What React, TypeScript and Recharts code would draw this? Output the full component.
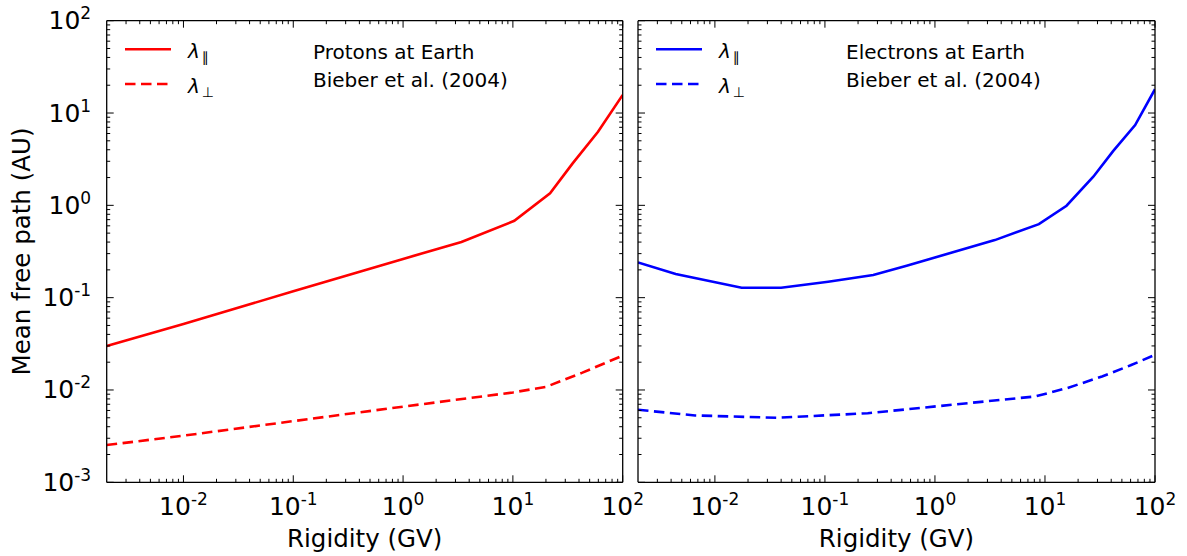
import React from 'react';
import { LineChart, Line, XAxis, YAxis, Legend } from 'recharts';

const FONT = "'DejaVu Sans', sans-serif";

// Protons (left panel)
const protonParRigidity = [0.002, 0.01, 0.1, 1, 3.4, 10.3, 21.8, 35, 59.6, 100];
const protonParLambda = [0.03, 0.052, 0.117, 0.263, 0.4, 0.68, 1.35, 2.85, 6.27, 15.7];
const protonPerpRigidity = [0.002, 0.01, 0.1, 1, 10, 20, 43, 100];
const protonPerpLambda = [0.00253, 0.0032, 0.0046, 0.0066, 0.0094, 0.0108, 0.0154, 0.0236];

// Electrons (right panel)
const electronParRigidity = [0.002, 0.0044, 0.0175, 0.04, 0.107, 0.275, 0.553, 3.5, 8.8, 15.7, 27.5, 41.6, 66, 100];
const electronParLambda = [0.241, 0.18, 0.128, 0.128, 0.149, 0.176, 0.222, 0.42, 0.626, 0.99, 2.04, 3.87, 7.4, 18.1];
const electronPerpRigidity = [0.002, 0.0066, 0.037, 0.245, 2.0, 8.1, 16, 33, 60, 100];
const electronPerpLambda = [0.0061, 0.0053, 0.005, 0.0056, 0.0072, 0.0085, 0.0105, 0.014, 0.0185, 0.024];

// Axis ticks
const xMajorTicks = [0.01, 0.1, 1, 10, 100];
const xMajorExponents = ['-2', '-1', '0', '1', '2'];
const yMajorTicks = [0.001, 0.01, 0.1, 1, 10, 100];
const yMajorExponents = ['-3', '-2', '-1', '0', '1', '2'];
const X_DOMAIN: [number, number] = [0.002, 100];
const Y_DOMAIN: [number, number] = [0.001, 100];

const legendSymbol = 'λ';
const legendSubscripts = ['∥', '⊥'];
const protonTitle = ['Protons at Earth', 'Bieber et al. (2004)'];
const electronTitle = ['Electrons at Earth', 'Bieber et al. (2004)'];
const xAxisTitle = 'Rigidity (GV)';
const yAxisTitle = 'Mean free path (AU)';

function withMinors(majors: number[], lo: number, hi: number): number[] {
  const out: number[] = [];
  const decades = [0.0001, 0.001, 0.01, 0.1, 1, 10];
  for (const d of decades) {
    for (let k = 1; k <= 9; k++) {
      const v = parseFloat((k * d).toPrecision(6));
      if (v >= lo * 0.9999 && v <= hi * 1.0001) out.push(v);
    }
  }
  majors.forEach((m) => { if (!out.includes(m)) out.push(m); });
  return out.sort((a, b) => a - b);
}

const xTicks = withMinors(xMajorTicks, 0.003, 100);
const yTicks = withMinors(yMajorTicks, 0.001, 100);

const isMajor = (v: number) => Math.abs(Math.log10(v) - Math.round(Math.log10(v))) < 1e-6;
const MAJOR = 7;
const MINOR = 3.5;
const TICK_STROKE = '#000';
const TICK_FONT = 25;
const SUP_FONT = 17;
const TITLE_FONT = 24.5;

function xExp(v: number) {
  const i = xMajorTicks.findIndex((m) => Math.abs(m - v) / m < 1e-6);
  return i >= 0 ? xMajorExponents[i] : null;
}
function yExp(v: number) {
  const i = yMajorTicks.findIndex((m) => Math.abs(m - v) / m < 1e-6);
  return i >= 0 ? yMajorExponents[i] : null;
}

const makeXTick = (side: 'bottom' | 'top', labels: boolean) => (props: any) => {
  const { x, y, payload } = props;
  const v = payload.value;
  const major = isMajor(v);
  const len = major ? MAJOR : MINOR;
  const dir = side === 'bottom' ? -1 : 1;
  const exp = xExp(v);
  return (
    <g>
      <line x1={x} y1={y} x2={x} y2={y + dir * len} stroke={TICK_STROKE} strokeWidth={1} />
      {labels && major && exp !== null && (
        <text x={x} y={y + 33} textAnchor="middle" fontFamily={FONT} fontSize={TICK_FONT} fill="#000">
          10<tspan dy={-10} fontSize={SUP_FONT}>{exp}</tspan>
        </text>
      )}
    </g>
  );
};

const makeYTick = (side: 'left' | 'right', labels: boolean) => (props: any) => {
  const { x, y, payload } = props;
  const v = payload.value;
  const major = isMajor(v);
  const len = major ? MAJOR : MINOR;
  const dir = side === 'left' ? 1 : -1;
  const exp = yExp(v);
  return (
    <g>
      <line x1={x} y1={y} x2={x + dir * len} y2={y} stroke={TICK_STROKE} strokeWidth={1} />
      {labels && major && exp !== null && (
        <text x={x - 15.5} y={y + 8.5} textAnchor="end" fontFamily={FONT} fontSize={TICK_FONT} fill="#000">
          10<tspan dy={-10} fontSize={SUP_FONT}>{exp}</tspan>
        </text>
      )}
    </g>
  );
};

const zip = (rs: number[], ls: number[]) => rs.map((r, i) => ({ r, l: ls[i] }));

const AXIS_LINE = { stroke: '#000', strokeWidth: 1.3 };
const DASH = '10.5 5.5';

type PanelProps = {
  left: number;
  width: number;
  margin: { top: number; right: number; bottom: number; left: number };
  leftAxisWidth: number;
  parR: number[];
  parL: number[];
  perpR: number[];
  perpL: number[];
  color: string;
  title: string[];
  showYLabels: boolean;
  legendX: number;
  titleX: number;
};

function Panel(p: PanelProps) {
  const par = zip(p.parR, p.parL);
  const perp = zip(p.perpR, p.perpL);
  const legendContent = (lp: any) => {
    const items = (lp.payload || []) as any[];
    const ys = [49.3, 84];
    return (
      <svg width={560} height={110} style={{ position: 'absolute', left: 0, top: 0, overflow: 'visible' }}>
        {items.map((it, i) => (
          <g key={i}>
            <line
              x1={p.legendX}
              x2={p.legendX + 46}
              y1={ys[i]}
              y2={ys[i]}
              stroke={it.color}
              strokeWidth={2.6}
              strokeDasharray={it.payload && it.payload.strokeDasharray ? it.payload.strokeDasharray : undefined}
            />
            <text x={p.legendX + 63} y={ys[i] + 9} fontFamily={FONT} fontSize={20} fontStyle="italic" fill="#000">
              {legendSymbol}
              <tspan dx={2} dy={4} fontSize={14} fontStyle="normal" fill="#000">{legendSubscripts[i]}</tspan>
            </text>
          </g>
        ))}
        <text x={p.titleX} y={59.3} fontFamily={FONT} fontSize={20} fill="#000">{p.title[0]}</text>
        <text x={p.titleX} y={87} fontFamily={FONT} fontSize={20} fill="#000">{p.title[1]}</text>
      </svg>
    );
  };

  return (
    <div style={{ position: 'absolute', left: p.left, top: 0 }}>
      <LineChart width={p.width} height={556} margin={p.margin}>
        <XAxis
          xAxisId="b"
          dataKey="r"
          type="number"
          scale="log"
          domain={X_DOMAIN}
          allowDataOverflow
          ticks={xTicks}
          interval={0}
          tickSize={0}
          tickMargin={0}
          height={60}
          axisLine={AXIS_LINE}
          tickLine={false}
          tick={makeXTick('bottom', true)}
          label={(lp: any) => {
            const vb = lp.viewBox;
            return (
              <text x={vb.x + vb.width / 2} y={vb.y + 64.5} textAnchor="middle" fontFamily={FONT} fontSize={TITLE_FONT} fill="#000">
                {xAxisTitle}
              </text>
            );
          }}
        />
        <XAxis
          xAxisId="t"
          orientation="top"
          dataKey="r"
          type="number"
          scale="log"
          domain={X_DOMAIN}
          allowDataOverflow
          ticks={xTicks}
          interval={0}
          tickSize={0}
          tickMargin={0}
          height={1}
          axisLine={AXIS_LINE}
          tickLine={false}
          tick={makeXTick('top', false)}
        />
        <YAxis
          yAxisId="l"
          type="number"
          scale="log"
          domain={Y_DOMAIN}
          allowDataOverflow
          ticks={yTicks}
          interval={0}
          tickSize={0}
          tickMargin={0}
          width={p.leftAxisWidth}
          axisLine={AXIS_LINE}
          tickLine={false}
          tick={makeYTick('left', p.showYLabels)}
          label={
            p.showYLabels
              ? (lp: any) => {
                  const vb = lp.viewBox;
                  const cx = 30;
                  const cy = vb.y + vb.height / 2;
                  return (
                    <text
                      x={cx}
                      y={cy}
                      transform={`rotate(-90 ${cx} ${cy})`}
                      textAnchor="middle"
                      fontFamily={FONT}
                      fontSize={TITLE_FONT}
                      fill="#000"
                    >
                      {yAxisTitle}
                    </text>
                  );
                }
              : undefined
          }
        />
        <YAxis
          yAxisId="r"
          orientation="right"
          type="number"
          scale="log"
          domain={Y_DOMAIN}
          allowDataOverflow
          ticks={yTicks}
          interval={0}
          tickSize={0}
          tickMargin={0}
          width={1}
          axisLine={AXIS_LINE}
          tickLine={false}
          tick={makeYTick('right', false)}
        />
        <Line
          xAxisId="b"
          yAxisId="l"
          data={par}
          dataKey="l"
          name="par"
          stroke={p.color}
          strokeWidth={2.6}
          dot={false}
          activeDot={false}
          isAnimationActive={false}
        />
        <Line
          xAxisId="b"
          yAxisId="l"
          data={perp}
          dataKey="l"
          name="perp"
          stroke={p.color}
          strokeWidth={2.6}
          strokeDasharray={DASH}
          dot={false}
          activeDot={false}
          isAnimationActive={false}
        />
        <Legend
          layout="vertical"
          align="center"
          verticalAlign="middle"
          wrapperStyle={{ left: 0, top: 0, width: 560, height: 110, pointerEvents: 'none' }}
          content={legendContent}
        />
      </LineChart>
    </div>
  );
}

export default function App() {
  return (
    <div style={{ position: 'absolute', left: 0, top: 0, width: 1187, height: 556, background: '#fff', overflow: 'hidden' }}>
      <Panel
        left={630}
        width={557}
        margin={{ top: 19.7, right: 31, bottom: 13.7, left: 7 }}
        leftAxisWidth={1}
        parR={electronParRigidity}
        parL={electronParLambda}
        perpR={electronPerpRigidity}
        perpL={electronPerpLambda}
        color="#0000ff"
        title={electronTitle}
        showYLabels={false}
        legendX={26}
        titleX={216}
      />
      <Panel
        left={0}
        width={670}
        margin={{ top: 19.7, right: 46.3, bottom: 13.7, left: 46.7 }}
        leftAxisWidth={60}
        parR={protonParRigidity}
        parL={protonParLambda}
        perpR={protonPerpRigidity}
        perpL={protonPerpLambda}
        color="#ff0000"
        title={protonTitle}
        showYLabels={true}
        legendX={125}
        titleX={313}
      />
    </div>
  );
}
